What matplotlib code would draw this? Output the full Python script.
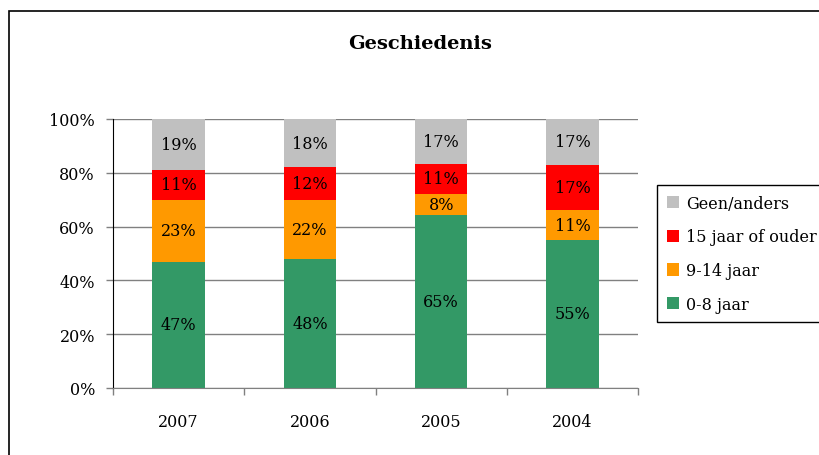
import numpy as np
import matplotlib
matplotlib.use("Agg")
import matplotlib.pyplot as plt
from matplotlib.patches import Rectangle

# data (percentages as printed)
years = ["2007", "2006", "2005", "2004"]
series_names = ["0-8 jaar", "9-14 jaar", "15 jaar of ouder", "Geen/anders"]
jaar_0_8 = [47, 48, 65, 55]
jaar_9_14 = [23, 22, 8, 11]
jaar_15_plus = [11, 12, 11, 17]
geen_anders = [19, 18, 17, 17]
colors = ["#339966", "#FF9900", "#FF0000", "#C0C0C0"]

plt.rcParams['font.family'] = ['DejaVu Serif']
fs = 11.5

values = np.array([jaar_0_8, jaar_9_14, jaar_15_plus, geen_anders], dtype=float)
# 100% stacked: normalise each column
shares = values / values.sum(axis=0) * 100

fig = plt.figure(figsize=(8.19, 4.56), dpi=100)
ax = fig.add_axes([0.138, 0.147, 0.641, 0.590])

x = np.arange(len(years))
bottom = np.zeros(len(years))
handles = []
for name, col, sh, raw in zip(series_names, colors, shares, values):
    bars = ax.bar(x, sh, width=0.40, bottom=bottom, color=col, label=name, zorder=2)
    handles.append(bars)
    for xi, b, h, r in zip(x, bottom, sh, raw):
        ax.text(xi, b + h / 2, f"{int(r)}%", ha='center', va='center', fontsize=fs, zorder=3)
    bottom += sh

ax.set_xlim(-0.5, len(years) - 0.5)
ax.set_ylim(0, 100)
ax.set_yticks(np.arange(0, 101, 20))
ax.set_yticklabels([f"{v}%" for v in range(0, 101, 20)], fontsize=fs)
ax.yaxis.grid(True, color='#808080', linewidth=1, zorder=0)
ax.set_axisbelow(True)

# ticks at category boundaries, labels at centres
ax.set_xticks(np.arange(-0.5, len(years), 1))
ax.set_xticklabels([])
ax.set_xticks(x, minor=True)
ax.set_xticklabels(years, minor=True, fontsize=fs)
ax.tick_params(axis='x', which='major', direction='out', length=5, color='#808080', width=1)
ax.tick_params(axis='x', which='minor', length=0, pad=18)
ax.tick_params(axis='y', direction='out', length=5, color='#808080', width=1, pad=8)

for s in ['top', 'right']:
    ax.spines[s].set_visible(False)
ax.spines['left'].set_color('black')
ax.spines['bottom'].set_color('#808080')

fig.text(420 / 819, 1 - 44 / 456, "Geschiedenis", fontsize=14, fontweight='bold',
         ha='center', va='center')

leg = fig.legend(handles[::-1], series_names[::-1], loc='upper left',
                 bbox_to_anchor=(657 / 819, 1 - 186 / 456), fontsize=fs,
                 frameon=True, fancybox=False, edgecolor='black', framealpha=1,
                 handlelength=0.8, handleheight=0.8, handletextpad=0.4,
                 labelspacing=1.05, borderpad=0.6, borderaxespad=0)
leg.get_frame().set_linewidth(1)

# chart border (cut off at right and bottom)
fig.patches.append(Rectangle((9 / 819, -0.2), 1.2, 1.2 - 12 / 456,
                             transform=fig.transFigure, fill=False,
                             edgecolor='black', linewidth=1.2, clip_on=False))

fig.savefig("out.png", dpi=100)
